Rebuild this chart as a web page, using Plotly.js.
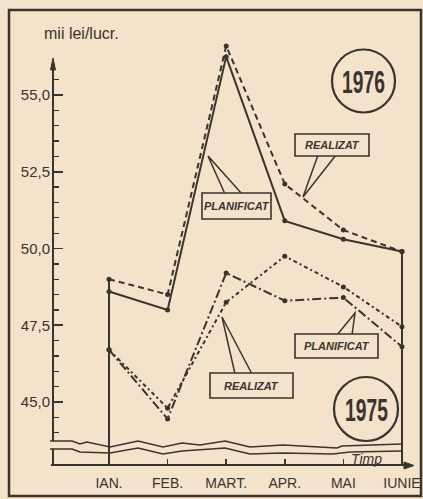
<!DOCTYPE html>
<html>
<head>
<meta charset="utf-8">
<script src="https://cdn.plot.ly/plotly-3.0.1.min.js"></script>
<style>
html,body{margin:0;padding:0;background:#f4e2cb;}
#chart{width:423px;height:499px;}
</style>
</head>
<body>
<div id="chart"></div>
<script>
// ---- data ----
const months = ['IAN.', 'FEB.', 'MART.', 'APR.', 'MAI', 'IUNIE'];
const plan1976 = [48.6, 48.0, 56.25, 50.9, 50.3, 49.9];
const real1976 = [49.0, 48.5, 56.6, 52.1, 50.6, 49.9];
const plan1975 = [46.7, 44.45, 49.2, 48.3, 48.4, 46.8];
const real1975 = [46.7, 44.8, 48.25, 49.75, 48.75, 47.45];
const yTickVals = [45, 47.5, 50, 52.5, 55];
const yTickText = ['45,0', '47,5', '50,0', '52,5', '55,0'];
const yMinorVals = [44, 44.5, 45.5, 46, 46.5, 47, 48, 48.5, 49, 49.5, 50.5, 51, 51.5, 52, 53, 53.5, 54, 54.5, 55.5];

// ---- geometry helpers (pixel -> paper) ----
const W = 423, H = 499, L = 53, R = 11, T = 40, B = 34;
const PW = W - L - R, PH = H - T - B;
const px = x => (x - L) / PW;
const py = y => (H - B - y) / PH;
const ink = '#3a342e';
const bg = '#f4e2cb';
const fontN = '"Liberation Sans", Arial, sans-serif';

function pathFrom(pts, close) {
  return pts.map((p, i) => (i ? 'L' : 'M') + px(p[0]).toFixed(4) + ',' + py(p[1]).toFixed(4)).join(' ') + (close ? ' Z' : '');
}
function line(x0, y0, x1, y1, w) {
  return {type: 'line', xref: 'paper', yref: 'paper', x0: px(x0), y0: py(y0), x1: px(x1), y1: py(y1),
          line: {color: ink, width: w || 2}};
}
function poly(pts, w, fill) {
  return {type: 'path', xref: 'paper', yref: 'paper', path: pathFrom(pts, !!fill),
          line: {color: ink, width: w || 1.6}, fillcolor: fill || 'rgba(0,0,0,0)'};
}
function rect(x0, y0, x1, y1, w) {
  return {type: 'rect', xref: 'paper', yref: 'paper', x0: px(x0), y0: py(y0), x1: px(x1), y1: py(y1),
          line: {color: ink, width: w || 1.6}, fillcolor: bg};
}
function circle(cx, cy, r) {
  return {type: 'circle', xref: 'paper', yref: 'paper', x0: px(cx - r), x1: px(cx + r), y0: py(cy - r), y1: py(cy + r),
          line: {color: ink, width: 2.2}};
}
function label(x, y, text, size) {
  return {xref: 'paper', yref: 'paper', x: px(x), y: py(y), text: text, showarrow: false,
          xanchor: 'center', yanchor: 'middle',
          font: {family: fontN, size: size, color: ink}};
}

const yBottom = 50 - (465 - 248.5) / 30.7;
const yTop = 50 + (248.5 - 40) / 30.7;

const mk = {size: 5, color: ink};
const traces = [
  {x: months, y: plan1976, mode: 'lines+markers', line: {color: ink, width: 2}, marker: mk, cliponaxis: false, name: 'Planificat 1976'},
  {x: months, y: real1976, mode: 'lines+markers', line: {color: ink, width: 2, dash: '6px,4px'}, marker: mk, cliponaxis: false, name: 'Realizat 1976'},
  {x: months, y: plan1975, mode: 'lines+markers', line: {color: ink, width: 2, dash: '9px,3px,2px,3px'}, marker: mk, cliponaxis: false, name: 'Planificat 1975'},
  {x: months, y: real1975, mode: 'lines+markers', line: {color: ink, width: 2, dash: '4px,3px,2px,3px'}, marker: mk, cliponaxis: false, name: 'Realizat 1975'}
];

const zigUpper = [[50,441],[72,441],[80,444],[87,442],[110,447],[138,441],[163,447],[182,443],[200,445],[225,441],[250,447],[283,445],[337,448],[342,446],[402,444]];
const zigLower = [[50,449],[72,449],[80,452],[110,453],[138,448],[163,454],[182,451],[225,448],[250,454],[283,453],[333,454],[350,452],[402,451]];

const shapes = [
  {type: 'rect', xref: 'paper', yref: 'paper', x0: px(9), y0: py(10), x1: px(421), y1: py(496), line: {color: ink, width: 2.5}},
  line(53, 441, 53, 66, 2),
  line(53, 449, 53, 465, 2),
  poly([[50.5,70],[53,58],[55.5,70]], 1, ink),
  line(51, 465, 406, 465, 2),
  poly([[404,462],[414,465.5],[404,469]], 1, ink),
  poly(zigUpper, 1.6),
  poly(zigLower, 1.6),
  {type: 'line', xref: 'x', yref: 'y', x0: months[0], x1: months[0], y0: yBottom, y1: real1976[0], line: {color: ink, width: 2}},
  {type: 'line', xref: 'x', yref: 'y', x0: months[5], x1: months[5], y0: yBottom, y1: real1976[5], line: {color: ink, width: 2}},
  circle(363.5, 81, 31.5),
  circle(366, 409, 32),
  poly([[318,155],[303,197],[336,155]], 1.5),
  rect(295, 134, 369, 156),
  poly([[225,194],[208,156],[242,194]], 1.5),
  rect(202, 193, 271, 219),
  poly([[337,335],[355,313],[352,335]], 1.5),
  rect(295, 334, 378, 358),
  poly([[235,374],[222,317],[252,374]], 1.5),
  rect(210, 373, 293, 398)
];

const annotations = [
  label(81, 33, 'mii lei/lucr.', 16),
  label(363.5, 82, '<b>1976</b>', 31),
  label(366, 410, '<b>1975</b>', 31),
  label(332, 145, '<b><i>REALIZAT</i></b>', 11),
  label(236.5, 206, '<b><i>PLANIFICAT</i></b>', 11),
  label(336.5, 346, '<b><i>PLANIFICAT</i></b>', 11),
  label(251.5, 385.5, '<b><i>REALIZAT</i></b>', 11),
  label(366, 459, '<i>Timp</i>', 14)
];

const layout = {
  width: W, height: H,
  margin: {l: L, r: R, t: T, b: B, pad: 0},
  paper_bgcolor: bg, plot_bgcolor: 'rgba(0,0,0,0)',
  showlegend: false,
  font: {family: fontN, color: ink, size: 14},
  xaxis: {
    type: 'category', range: [-0.956, 5.171], showline: false, showgrid: false, zeroline: false,
    ticks: 'inside', ticklen: 6, tickwidth: 1.6, tickcolor: ink,
    tickfont: {family: fontN, size: 14, color: ink}, ticklabelstandoff: 8, fixedrange: true
  },
  yaxis: {
    range: [yBottom, yTop], showline: false, showgrid: false, zeroline: false,
    tickmode: 'array', tickvals: yTickVals, ticktext: yTickText,
    ticks: 'inside', ticklen: 10, tickwidth: 1.6, tickcolor: ink,
    tickfont: {family: fontN, size: 15, color: ink}, ticklabelstandoff: 2,
    minor: {tickmode: 'array', tickvals: yMinorVals, ticks: 'inside', ticklen: 6, tickwidth: 1.3, tickcolor: ink, showgrid: false},
    fixedrange: true
  },
  shapes: shapes,
  annotations: annotations
};

Plotly.newPlot('chart', traces, layout, {displayModeBar: false, staticPlot: true}).then(function (gd) {
  // narrow the stencilled year numbers, as in the original lettering
  gd.querySelectorAll('text.annotation-text').forEach(function (t) {
    if (/^19\d\d$/.test(t.textContent)) {
      const x = parseFloat(t.getAttribute('x')) || 0;
      const s = 0.62;
      t.setAttribute('transform', 'translate(' + (x * (1 - s)) + ',0) scale(' + s + ',1)');
    }
  });
});
</script>
</body>
</html>
